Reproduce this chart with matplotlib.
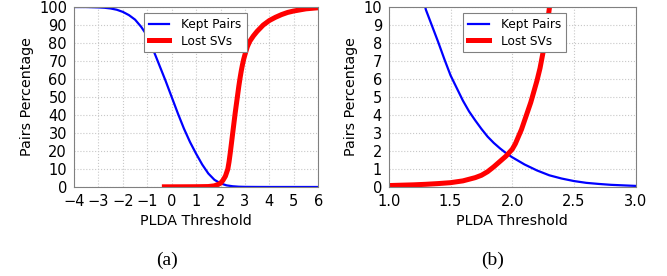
import matplotlib
matplotlib.use("Agg")
import matplotlib.pyplot as plt

# (a) full range
kept_x_a = [-4, -3.5, -3, -2.75, -2.5, -2.25, -2, -1.75, -1.5, -1.25, -1, -0.75, -0.5, -0.25, 0,
            0.25, 0.5, 0.75, 1.0, 1.25, 1.5, 1.75, 2.0, 2.25, 2.5, 2.75, 3, 3.5, 4, 6]
kept_y_a = [100, 100, 99.8, 99.6, 99.2, 98.5, 97.3, 95.5, 93, 89, 84, 76, 67.5, 59, 50,
            41, 32.5, 25, 18.5, 12.5, 7.5, 4, 2, 0.9, 0.4, 0.15, 0.06, 0.02, 0, 0]
lost_x_a = [-0.3, 0, 0.5, 1, 1.5, 1.75, 1.9, 2.0, 2.1, 2.2, 2.3, 2.35, 2.4, 2.45, 2.5, 2.55, 2.6,
            2.65, 2.7, 2.75, 2.8, 2.85, 2.9, 2.95, 3.0, 3.1, 3.2, 3.35, 3.5, 3.75, 4.0, 4.25, 4.5,
            4.75, 5.0, 5.5, 6.0]
lost_y_a = [0.1, 0.1, 0.12, 0.15, 0.25, 0.65, 1.4, 2.1, 3.7, 6, 10, 14, 19, 24.5, 30, 35.5, 41,
            46, 51, 56, 60.5, 64.5, 68, 71, 73.5, 78, 81, 84, 86.5, 90, 92.5, 94.3, 95.8,
            97, 97.8, 99, 99.6]

# (b) zoom
kept_x_b = [1.25, 1.3, 1.35, 1.4, 1.45, 1.5, 1.55, 1.6, 1.65, 1.7, 1.75, 1.8, 1.85, 1.9, 1.95, 2.0,
            2.1, 2.2, 2.3, 2.4, 2.5, 2.6, 2.7, 2.8, 2.9, 3.0]
kept_y_b = [11.3, 9.85, 8.95, 8.05, 7.1, 6.2, 5.5, 4.8, 4.2, 3.7, 3.23, 2.8, 2.45, 2.15, 1.88, 1.65,
            1.25, 0.92, 0.65, 0.47, 0.33, 0.23, 0.17, 0.12, 0.09, 0.06]
lost_x_b = [1.0, 1.1, 1.2, 1.3, 1.4, 1.5, 1.6, 1.7, 1.75, 1.8, 1.85, 1.9, 1.95, 2.0, 2.025, 2.05,
            2.075, 2.1, 2.125, 2.15, 2.175, 2.2, 2.225, 2.25, 2.275, 2.3, 2.325]
lost_y_b = [0.08, 0.1, 0.12, 0.15, 0.19, 0.24, 0.34, 0.52, 0.65, 0.85, 1.12, 1.42, 1.72, 2.1, 2.4, 2.8,
            3.2, 3.7, 4.2, 4.7, 5.3, 5.9, 6.6, 7.5, 8.6, 9.9, 11.2]

fig = plt.figure(figsize=(6.67, 2.76), dpi=100)
axa = fig.add_axes([0.111, 0.3225, 0.366, 0.652])
axb = fig.add_axes([0.583, 0.3225, 0.370, 0.652])


def style(ax):
    for s in ax.spines.values():
        s.set_color("#808080")
        s.set_linewidth(0.8)
    ax.grid(True, color="#c8c8c8", linestyle=":", linewidth=0.8)
    ax.set_axisbelow(True)
    ax.tick_params(length=0, labelsize=10.5, pad=5)
    ax.set_xlabel("PLDA Threshold", fontsize=10.3)
    ax.set_ylabel("Pairs Percentage", fontsize=10.3)


axa.plot(kept_x_a, kept_y_a, color="blue", lw=1.6, label="Kept Pairs")
axa.plot(lost_x_a, lost_y_a, color="red", lw=3.6, label="Lost SVs")
axa.set_xlim(-4, 6)
axa.set_ylim(0, 100)
axa.set_xticks(range(-4, 7))
axa.set_yticks(range(0, 101, 10))
style(axa)

axb.plot(kept_x_b, kept_y_b, color="blue", lw=1.6, label="Kept Pairs")
axb.plot(lost_x_b, lost_y_b, color="red", lw=3.6, label="Lost SVs")
axb.set_xlim(1.0, 3.0)
axb.set_ylim(0, 10)
axb.set_xticks([1.0, 1.5, 2.0, 2.5, 3.0])
axb.set_xticklabels(["1.0", "1.5", "2.0", "2.5", "3.0"])
axb.set_yticks(range(0, 11))
style(axb)

for ax, lx in ((axa, 0.262), (axb, 0.277)):
    leg = ax.legend(loc="upper left", bbox_to_anchor=(lx, 1.0), fontsize=8.7,
                    fancybox=False, framealpha=1, edgecolor="#808080",
                    handlelength=1.7, handletextpad=1.0, borderpad=0.4, labelspacing=0.3)
    leg.get_frame().set_linewidth(0.8)

fig.text(0.250, 0.058, "(a)", family="Liberation Serif", fontsize=14, ha="center", va="center")
fig.text(0.739, 0.058, "(b)", family="Liberation Serif", fontsize=14, ha="center", va="center")

fig.savefig("out.png", dpi=100)
